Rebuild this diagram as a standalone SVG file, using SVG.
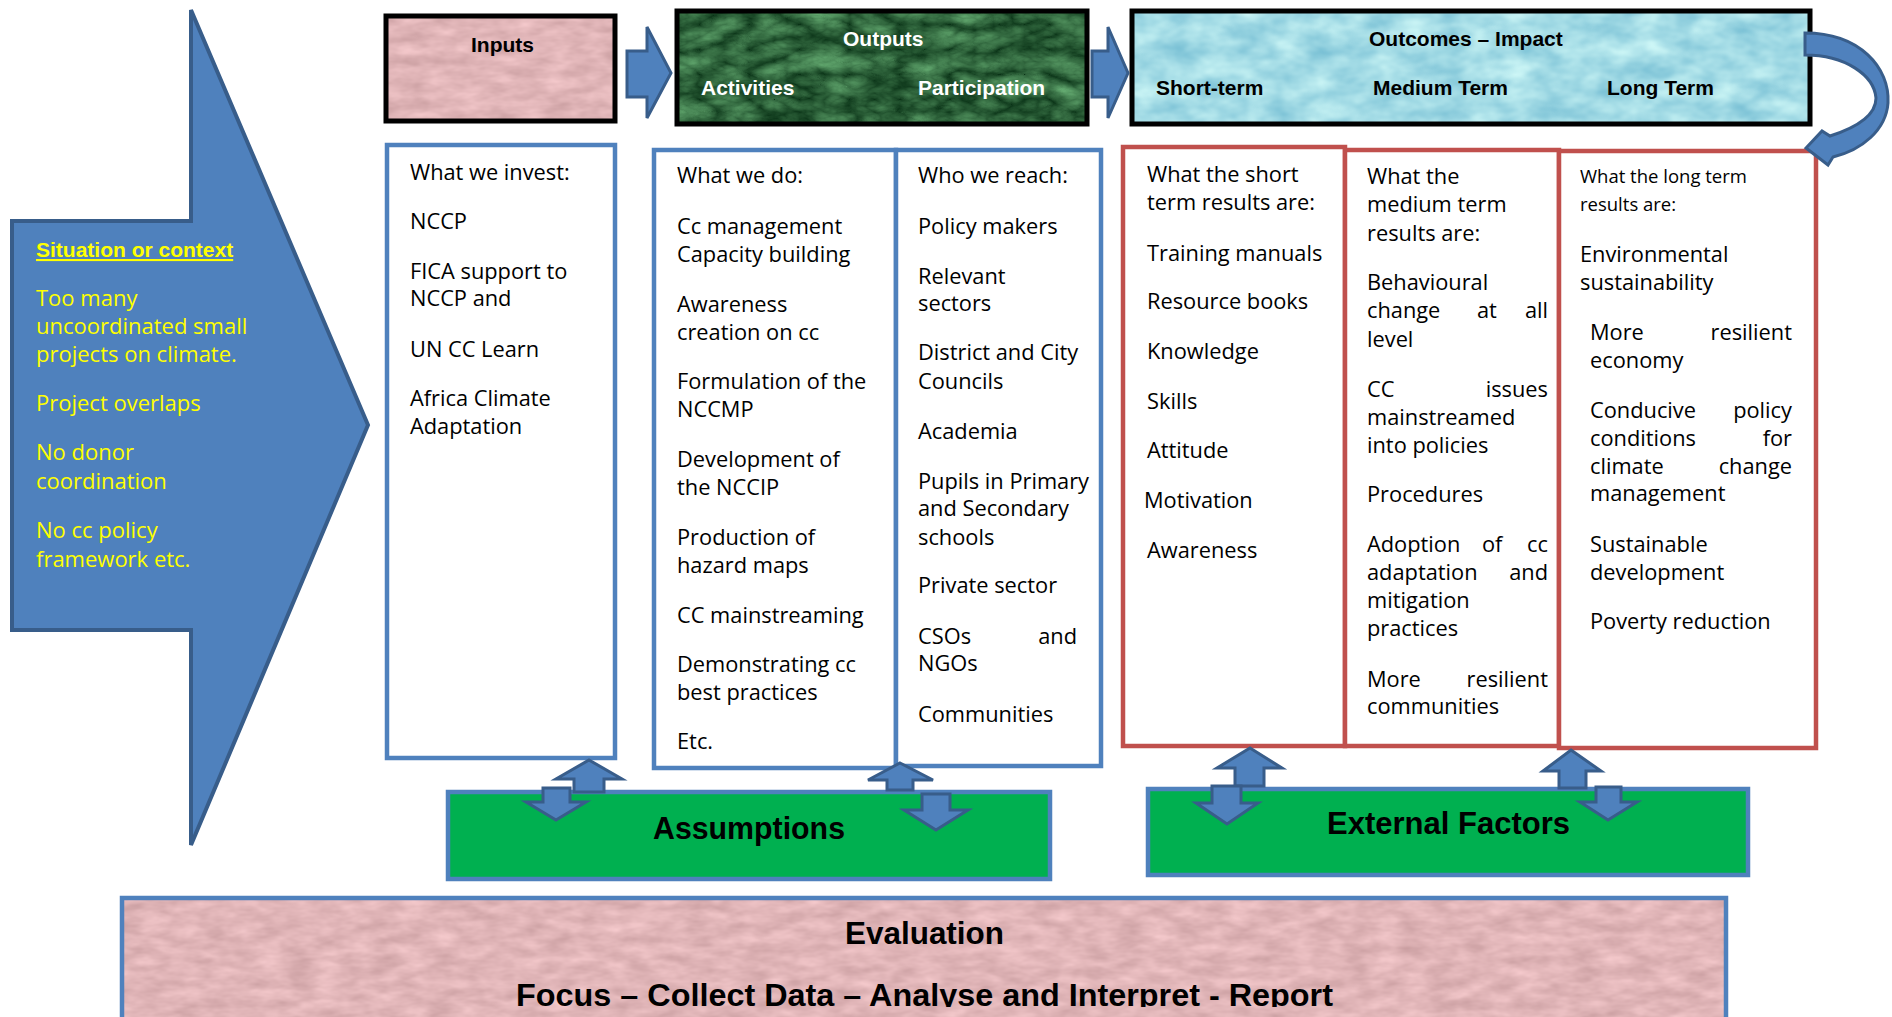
<svg xmlns="http://www.w3.org/2000/svg" width="1892" height="1017" viewBox="0 0 1892 1017">
  <style>
    .body { font-family: "Open Sans", "Liberation Sans", sans-serif; font-size: 21.8px; fill: #000; }
    .small { font-family: "Open Sans", "Liberation Sans", sans-serif; font-size: 18.5px; fill: #000; }
    .ctx { font-family: "Open Sans", "Liberation Sans", sans-serif; font-size: 22px; fill: #FFFF00; }
    .ctxhead { font-family: "Liberation Sans", sans-serif; font-weight: bold; font-size: 21px; fill: #FFFF00; text-decoration: underline; }
    .hdr { font-family: "Liberation Sans", sans-serif; font-weight: bold; font-size: 21px; fill: #000; }
    .hdrw { font-family: "Liberation Sans", sans-serif; font-weight: bold; font-size: 21px; fill: #fff; }
    .big { font-family: "Liberation Sans", sans-serif; font-weight: bold; font-size: 31px; fill: #000; }
    .blue { fill: #fff; stroke: #4F81BD; stroke-width: 4.5; }
    .red { fill: #fff; stroke: #C0504D; stroke-width: 4.5; }
    .head { stroke: #000; stroke-width: 5; }
    .green { fill: #00B050; stroke: #4F81BD; stroke-width: 4.5; }
    .arrow { fill: #4F81BD; stroke: #385D8A; stroke-width: 3; stroke-linejoin: miter; }
    .end { text-anchor: end; }
  </style>
  <defs>
    <filter id="pinkTex" x="0" y="0" width="100%" height="100%" color-interpolation-filters="sRGB">
      <feTurbulence type="fractalNoise" baseFrequency="0.035 0.09" numOctaves="3" seed="4" result="n"/>
      <feColorMatrix in="n" type="matrix" values="0.2 0 0 0 0.78  0.2 0 0 0 0.61  0.2 0 0 0 0.62  0 0 0 0 1" result="c"/>
      <feComposite in="c" in2="SourceGraphic" operator="in"/>
    </filter>
    <filter id="greenTex" x="0" y="0" width="100%" height="100%" color-interpolation-filters="sRGB">
      <feTurbulence type="turbulence" baseFrequency="0.02 0.04" numOctaves="4" seed="7" result="n"/>
      <feColorMatrix in="n" type="matrix" values="0.45 0 0 0 0.04  0.6 0 0 0 0.2  0.45 0 0 0 0.09  0 0 0 0 1" result="c"/>
      <feComposite in="c" in2="SourceGraphic" operator="in"/>
    </filter>
    <filter id="waterTex" x="0" y="0" width="100%" height="100%" color-interpolation-filters="sRGB">
      <feTurbulence type="fractalNoise" baseFrequency="0.03 0.05" numOctaves="3" seed="11" result="n"/>
      <feColorMatrix in="n" type="matrix" values="0.4 0 0 0 0.44  0.26 0 0 0 0.73  0.16 0 0 0 0.82  0 0 0 0 1" result="c"/>
      <feComposite in="c" in2="SourceGraphic" operator="in"/>
    </filter>
    <clipPath id="evalClip">
      <rect x="0" y="0" width="1892" height="1007"/>
    </clipPath>
  </defs>

  <!-- Situation / context block arrow -->
  <g id="situation">
    <path d="M191,10 L368,425 L191,845 L191,630 L12,630 L12,221 L191,221 Z" fill="#4F81BD" stroke="#385D8A" stroke-width="4"/>
    <text class="ctxhead" x="36" y="257">Situation or context</text>
    <text class="ctx" x="36" y="306">Too many</text>
    <text class="ctx" x="36" y="334">uncoordinated small</text>
    <text class="ctx" x="36" y="362">projects on climate.</text>
    <text class="ctx" x="36" y="411">Project overlaps</text>
    <text class="ctx" x="36" y="460">No donor</text>
    <text class="ctx" x="36" y="489">coordination</text>
    <text class="ctx" x="36" y="538">No cc policy</text>
    <text class="ctx" x="36" y="567">framework etc.</text>
  </g>

  <!-- Header boxes -->
  <g id="inputs-header">
    <rect x="386" y="16" width="229" height="105" fill="#E0B4B5" filter="url(#pinkTex)"/>
    <rect x="386" y="16" width="229" height="105" fill="none" class="head"/>
    <text class="hdr" x="471" y="52">Inputs</text>
  </g>
  <g id="outputs-header">
    <rect x="677" y="11" width="410" height="113" fill="#1F5A30" filter="url(#greenTex)"/>
    <rect x="677" y="11" width="410" height="113" fill="none" class="head"/>
    <text class="hdrw" x="843" y="46">Outputs</text>
    <text class="hdrw" x="701" y="95">Activities</text>
    <text class="hdrw" x="918" y="95">Participation</text>
  </g>
  <g id="outcomes-header">
    <rect x="1132" y="11" width="678" height="113" fill="#A9DCE8" filter="url(#waterTex)"/>
    <rect x="1132" y="11" width="678" height="113" fill="none" class="head"/>
    <text class="hdr" x="1369" y="46">Outcomes – Impact</text>
    <text class="hdr" x="1156" y="95">Short-term</text>
    <text class="hdr" x="1373" y="95">Medium Term</text>
    <text class="hdr" x="1607" y="95">Long Term</text>
  </g>

  <!-- Inputs list -->
  <g id="inputs-list">
    <rect class="blue" x="387" y="145" width="228" height="613"/>
    <text class="body" x="410" y="180">What we invest:</text>
    <text class="body" x="410" y="229">NCCP</text>
    <text class="body" x="410" y="279">FICA support to</text>
    <text class="body" x="410" y="306">NCCP and</text>
    <text class="body" x="410" y="357">UN CC Learn</text>
    <text class="body" x="410" y="406">Africa Climate</text>
    <text class="body" x="410" y="434">Adaptation</text>
  </g>

  <!-- Activities list -->
  <g id="activities-list">
    <rect class="blue" x="654" y="150" width="242" height="618"/>
    <text class="body" x="677" y="183">What we do:</text>
    <text class="body" x="677" y="234">Cc management</text>
    <text class="body" x="677" y="262">Capacity building</text>
    <text class="body" x="677" y="312">Awareness</text>
    <text class="body" x="677" y="340">creation on cc</text>
    <text class="body" x="677" y="389">Formulation of the</text>
    <text class="body" x="677" y="417">NCCMP</text>
    <text class="body" x="677" y="467">Development of</text>
    <text class="body" x="677" y="495">the NCCIP</text>
    <text class="body" x="677" y="545">Production of</text>
    <text class="body" x="677" y="573">hazard maps</text>
    <text class="body" x="677" y="623">CC mainstreaming</text>
    <text class="body" x="677" y="672">Demonstrating cc</text>
    <text class="body" x="677" y="700">best practices</text>
    <text class="body" x="677" y="749">Etc.</text>
  </g>

  <!-- Participation list -->
  <g id="participation-list">
    <rect class="blue" x="896" y="150" width="205" height="616"/>
    <text class="body" x="918" y="183">Who we reach:</text>
    <text class="body" x="918" y="234">Policy makers</text>
    <text class="body" x="918" y="284">Relevant</text>
    <text class="body" x="918" y="311">sectors</text>
    <text class="body" x="918" y="360">District and City</text>
    <text class="body" x="918" y="389">Councils</text>
    <text class="body" x="918" y="439">Academia</text>
    <text class="body" x="918" y="489">Pupils in Primary</text>
    <text class="body" x="918" y="516">and Secondary</text>
    <text class="body" x="918" y="545">schools</text>
    <text class="body" x="918" y="593">Private sector</text>
    <text class="body" x="918" y="644">CSOs</text>
    <text class="body end" x="1077" y="644">and</text>
    <text class="body" x="918" y="671">NGOs</text>
    <text class="body" x="918" y="722">Communities</text>
  </g>

  <!-- Short-term outcomes -->
  <g id="short-term-list">
    <rect class="red" x="1123" y="147" width="222" height="599"/>
    <text class="body" x="1147" y="182">What the short</text>
    <text class="body" x="1147" y="210">term results are:</text>
    <text class="body" x="1147" y="261">Training manuals</text>
    <text class="body" x="1147" y="309">Resource books</text>
    <text class="body" x="1147" y="359">Knowledge</text>
    <text class="body" x="1147" y="409">Skills</text>
    <text class="body" x="1147" y="458">Attitude</text>
    <text class="body" x="1144" y="508">Motivation</text>
    <text class="body" x="1147" y="558">Awareness</text>
  </g>

  <!-- Medium-term outcomes -->
  <g id="medium-term-list">
    <rect class="red" x="1345" y="150" width="214" height="596"/>
    <text class="body" x="1367" y="184">What the</text>
    <text class="body" x="1367" y="212">medium term</text>
    <text class="body" x="1367" y="241">results are:</text>
    <text class="body" x="1367" y="290">Behavioural</text>
    <text class="body" x="1367" y="318">change</text>
    <text class="body" x="1477" y="318">at</text>
    <text class="body end" x="1548" y="318">all</text>
    <text class="body" x="1367" y="347">level</text>
    <text class="body" x="1367" y="397">CC</text>
    <text class="body end" x="1548" y="397">issues</text>
    <text class="body" x="1367" y="425">mainstreamed</text>
    <text class="body" x="1367" y="453">into policies</text>
    <text class="body" x="1367" y="502">Procedures</text>
    <text class="body" x="1367" y="552">Adoption</text>
    <text class="body" x="1482" y="552">of</text>
    <text class="body end" x="1548" y="552">cc</text>
    <text class="body" x="1367" y="580">adaptation</text>
    <text class="body end" x="1548" y="580">and</text>
    <text class="body" x="1367" y="608">mitigation</text>
    <text class="body" x="1367" y="636">practices</text>
    <text class="body" x="1367" y="687">More</text>
    <text class="body end" x="1548" y="687">resilient</text>
    <text class="body" x="1367" y="714">communities</text>
  </g>

  <!-- Long-term outcomes -->
  <g id="long-term-list">
    <rect class="red" x="1559" y="151" width="257" height="597"/>
    <text class="small" x="1580" y="183">What the long term</text>
    <text class="small" x="1580" y="211">results are:</text>
    <text class="body" x="1580" y="262">Environmental</text>
    <text class="body" x="1580" y="290">sustainability</text>
    <text class="body" x="1590" y="340">More</text>
    <text class="body end" x="1792" y="340">resilient</text>
    <text class="body" x="1590" y="368">economy</text>
    <text class="body" x="1590" y="418">Conducive</text>
    <text class="body end" x="1792" y="418">policy</text>
    <text class="body" x="1590" y="446">conditions</text>
    <text class="body end" x="1792" y="446">for</text>
    <text class="body" x="1590" y="474">climate</text>
    <text class="body end" x="1792" y="474">change</text>
    <text class="body" x="1590" y="501">management</text>
    <text class="body" x="1590" y="552">Sustainable</text>
    <text class="body" x="1590" y="580">development</text>
    <text class="body" x="1590" y="629">Poverty reduction</text>
  </g>

  <!-- Assumptions and external factors -->
  <g id="assumptions">
    <rect class="green" x="448" y="792" width="602" height="87"/>
    <text class="big" x="653" y="839" textLength="192" lengthAdjust="spacingAndGlyphs">Assumptions</text>
  </g>
  <g id="external-factors">
    <rect class="green" x="1148" y="789" width="600" height="86"/>
    <text class="big" x="1327" y="834" textLength="243" lengthAdjust="spacingAndGlyphs">External Factors</text>
  </g>

  <!-- Evaluation band -->
  <g id="evaluation">
    <rect x="122" y="898" width="1604" height="140" fill="#E0B4B5" filter="url(#pinkTex)"/>
    <rect x="122" y="898" width="1604" height="140" fill="none" stroke="#4F81BD" stroke-width="4.5"/>
    <text class="big" x="845" y="944" textLength="159" lengthAdjust="spacingAndGlyphs">Evaluation</text>
    <g clip-path="url(#evalClip)">
      <text class="big" x="516" y="1006" textLength="817" lengthAdjust="spacingAndGlyphs">Focus – Collect Data – Analyse and Interpret - Report</text>
    </g>
  </g>

  <!-- Connectors -->
  <g id="connectors">
    <!-- inputs to outputs, outputs to outcomes -->
    <path class="arrow" d="M627,51 L647,51 L647,27 L671,73 L647,118 L647,97 L627,97 Z"/>
    <path class="arrow" d="M1092,51 L1108,51 L1108,27 L1128,73 L1108,118 L1108,97 L1092,97 Z"/>
    <!-- curved return arrow from outcomes into long-term list -->
    <path class="arrow" d="M1805,33 C1860,33 1890,68 1888,103 C1886,130 1862,150 1833,157 L1828,165 L1806,148 L1822,131 L1830,136 C1855,128 1876,116 1876,98 C1874,75 1845,55 1805,55 Z"/>
    <!-- assumptions, left pair -->
    <path class="arrow" d="M589,760 L622,779 L604,779 L604,792 L574,792 L574,779 L556,779 Z"/>
    <path class="arrow" d="M543,788 L570,788 L570,802 L586,802 L556,820 L526,802 L543,802 Z"/>
    <!-- assumptions, right pair -->
    <path class="arrow" d="M900,763 L933,780 L913,780 L913,790 L887,790 L887,780 L868,780 Z"/>
    <path class="arrow" d="M922,794 L950,794 L950,810 L968,810 L936,830 L904,810 L922,810 Z"/>
    <!-- external factors, left pair -->
    <path class="arrow" d="M1250,748 L1282,768 L1264,768 L1264,786 L1235,786 L1235,768 L1217,768 Z"/>
    <path class="arrow" d="M1212,786 L1241,786 L1241,803 L1258,803 L1227,824 L1196,803 L1212,803 Z"/>
    <!-- external factors, right pair -->
    <path class="arrow" d="M1571,750 L1601,771 L1586,771 L1586,788 L1559,788 L1559,771 L1543,771 Z"/>
    <path class="arrow" d="M1596,787 L1621,787 L1621,802 L1637,802 L1608,820 L1580,802 L1596,802 Z"/>
  </g>
</svg>
